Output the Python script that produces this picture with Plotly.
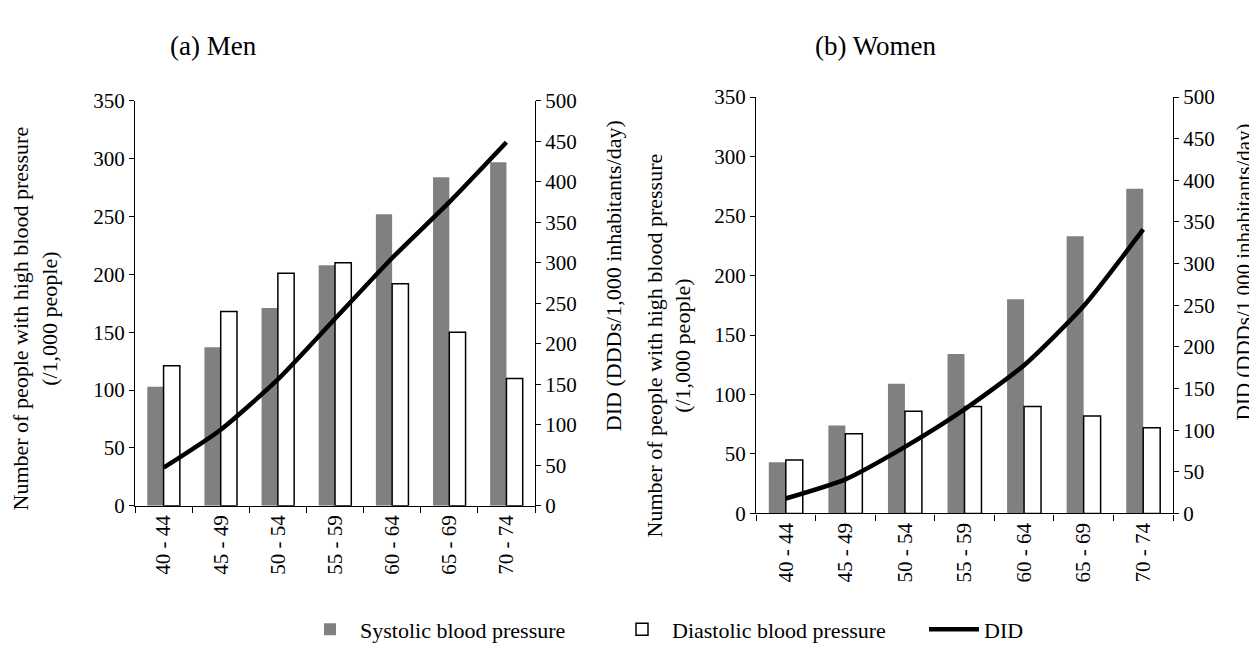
import plotly.graph_objects as go

age_groups = ["40 - 44", "45 - 49", "50 - 54", "55 - 59", "60 - 64", "65 - 69", "70 - 74"]

men_systolic = [103, 137, 171, 208, 252, 284, 297]
men_diastolic = [121, 168, 201, 210, 192, 150, 110]
men_did = [47, 94, 156, 231, 306, 375, 449]

women_systolic = [43, 74, 109, 134, 180, 233, 273]
women_diastolic = [45, 67, 86, 90, 90, 82, 72]
women_did = [18, 41, 80, 125, 178, 249, 341]

left_ticks = list(range(0, 351, 50))
right_ticks = list(range(0, 501, 50))

FONT = "Times New Roman, Liberation Serif, Tinos, DejaVu Serif, serif"
W, H = 1257, 647

fig = go.Figure()

def add_panel(sys_vals, dia_vals, did_vals, xa, ya, ya2, show):
    fig.add_trace(go.Bar(x=age_groups, y=sys_vals, name="Systolic blood pressure",
                         marker=dict(color="#808080", line=dict(width=0)),
                         xaxis=xa, yaxis=ya, showlegend=show, legendgroup="s",
                         offsetgroup="s"))
    fig.add_trace(go.Bar(x=age_groups, y=dia_vals, name="Diastolic blood pressure",
                         marker=dict(color="white", line=dict(color="black", width=1.5)),
                         xaxis=xa, yaxis=ya, showlegend=show, legendgroup="d",
                         offsetgroup="d"))
    fig.add_trace(go.Scatter(x=age_groups, y=did_vals, name="DID", mode="lines",
                             line=dict(color="black", width=4.5, shape="spline", smoothing=0.6),
                             xaxis=xa, yaxis=ya2, showlegend=show, legendgroup="l"))

add_panel(men_systolic, men_diastolic, men_did, "x", "y", "y2", True)
add_panel(women_systolic, women_diastolic, women_did, "x3", "y3", "y4", False)

axis_common = dict(showline=True, linecolor="black", linewidth=1.3, showgrid=False,
                   zeroline=False, ticks="outside", ticklen=5, tickcolor="black",
                   tickwidth=1.3, tickfont=dict(family=FONT, size=21, color="black"))

def px_x(a, b):
    return [a / W, b / W]

def px_y(top, bottom):
    return [1 - bottom / H, 1 - top / H]

xcommon = dict(axis_common, type="category", tickson="boundaries", tickangle=-90, ticklen=6)

fig.update_layout(
    width=W, height=H,
    paper_bgcolor="white", plot_bgcolor="white",
    margin=dict(l=0, r=0, t=0, b=0),
    barmode="group", bargap=0.43, bargroupgap=0,
    font=dict(family=FONT, size=21, color="black"),
    xaxis=dict(xcommon, domain=px_x(127, 527), anchor="y"),
    yaxis=dict(axis_common, domain=px_y(84, 504.5), range=[0, 350], tickvals=left_ticks, anchor="x"),
    yaxis2=dict(axis_common, range=[0, 500], tickvals=right_ticks, overlaying="y", side="right", anchor="x"),
    xaxis3=dict(xcommon, domain=px_x(748, 1165), anchor="y3"),
    yaxis3=dict(axis_common, domain=px_y(80, 512.5), range=[0, 350], tickvals=left_ticks, anchor="x3"),
    yaxis4=dict(axis_common, range=[0, 500], tickvals=right_ticks, overlaying="y3", side="right", anchor="x3"),
    legend=dict(orientation="h", x=292 / W, xanchor="left", y=1 - 633 / H, yanchor="middle",
                font=dict(family=FONT, size=22, color="black"), itemwidth=50,
                entrywidth=247, entrywidthmode="pixels",
                traceorder="normal"),
)

ann_font = dict(family=FONT, size=22, color="black")
annotations = [
    dict(text="(a) Men", x=205 / W, y=1 - 27 / H, font=dict(family=FONT, size=27, color="black")),
    dict(text="(b) Women", x=868 / W, y=1 - 27 / H, font=dict(family=FONT, size=27, color="black")),
    dict(text="Number of people with high blood pressure<br>(/1,000 people)", x=27 / W, y=1 - 310 / H,
         textangle=-90, font=ann_font),
    dict(text="DID (DDDs/1,000 inhabitants/day)", x=605 / W, y=1 - 266 / H, textangle=-90, font=ann_font),
    dict(text="Number of people with high blood pressure<br>(/1,000 people)", x=661 / W, y=1 - 338 / H,
         textangle=-90, font=ann_font),
    dict(text="DID (DDDs/1,000 inhabitants/day)", x=1236 / W, y=1 - 262 / H, textangle=-90,
         font=dict(family=FONT, size=21, color="black")),
]
for a in annotations:
    a.update(xref="paper", yref="paper", showarrow=False, xanchor="center", yanchor="middle")
fig.update_layout(annotations=annotations)

fig.write_html("out.html")
